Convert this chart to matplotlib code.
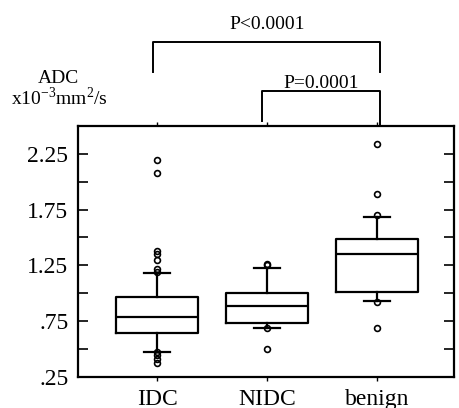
import matplotlib
matplotlib.use("Agg")
import matplotlib.pyplot as plt

categories = ["IDC", "NIDC", "benign"]
medians = [0.787, 0.886, 1.355]
q1 = [0.639, 0.733, 1.011]
q3 = [0.966, 0.997, 1.483]
whisker_low = [0.474, 0.683, 0.928]
whisker_high = [1.185, 1.223, 1.680]
outliers_idc = [2.199, 2.083, 1.375, 1.350, 1.301, 1.220, 1.190, 0.474, 0.444, 0.410, 0.376]
outliers_nidc = [1.265, 1.255, 0.683, 0.500]
outliers_benign = [2.340, 1.886, 1.700, 0.920, 0.689]
fliers = [outliers_idc, outliers_nidc, outliers_benign]

ytick_vals = [0.25, 0.5, 0.75, 1.0, 1.25, 1.5, 1.75, 2.0, 2.25]
ytick_labels = [".25", "", ".75", "", "1.25", "", "1.75", "", "2.25"]

plt.rcParams['font.family'] = ['Liberation Serif', 'DejaVu Serif']

fig = plt.figure(figsize=(4.59, 4.08), dpi=100)
ax = fig.add_axes([0.170, 0.0767, 0.819, 0.6143])

stats = []
for i, c in enumerate(categories):
    stats.append(dict(label=c, med=medians[i], q1=q1[i], q3=q3[i],
                      whislo=whisker_low[i], whishi=whisker_high[i], fliers=fliers[i]))

positions = [1, 2, 3]
lw = 1.6
ax.bxp(stats, positions=positions, widths=0.75, capwidths=0.24, showfliers=True,
       boxprops=dict(color='black', linewidth=lw),
       medianprops=dict(color='black', linewidth=lw),
       whiskerprops=dict(color='black', linewidth=lw),
       capprops=dict(color='black', linewidth=lw),
       flierprops=dict(marker='o', markersize=4.2, markerfacecolor='none',
                       markeredgecolor='black', markeredgewidth=1.2))

ax.set_xlim(0.28, 3.70)
ax.set_ylim(0.25, 2.50)
ax.set_yticks(ytick_vals)
ax.set_yticklabels(ytick_labels, fontsize=17)
ax.set_xticks(positions)
ax.set_xticklabels(categories, fontsize=17)
ax.tick_params(axis='y', which='both', direction='in', length=7, width=1.2,
               right=True, left=True, pad=7)
ax.tick_params(axis='x', direction='out', length=3, width=1.0, top=True,
               bottom=True, pad=6)
for s in ax.spines.values():
    s.set_linewidth(1.6)

# y-axis unit label
fig.text(58 / 459, 1 - 83 / 408, "ADC", ha='center', va='baseline', fontsize=14)
fig.text(59 / 459, 1 - 105 / 408, r"x10$^{\mathregular{-3}}$mm$^{\mathregular{2}}$/s",
         ha='center', va='baseline', fontsize=14)

# significance brackets
blw = 1.4
ax.plot([0.964, 0.964, 3.03, 3.03], [2.987, 3.255, 3.255, 2.987], color='black',
        linewidth=blw, clip_on=False)
ax.text(2.0, 3.37, "P<0.0001", ha='center', va='baseline', fontsize=14)
ax.plot([1.955, 1.955, 3.03, 3.03], [2.548, 2.817, 2.817, 2.50], color='black',
        linewidth=blw, clip_on=False)
ax.text(2.49, 2.845, "P=0.0001", ha='center', va='baseline', fontsize=14)

fig.savefig("out.png", dpi=100)
